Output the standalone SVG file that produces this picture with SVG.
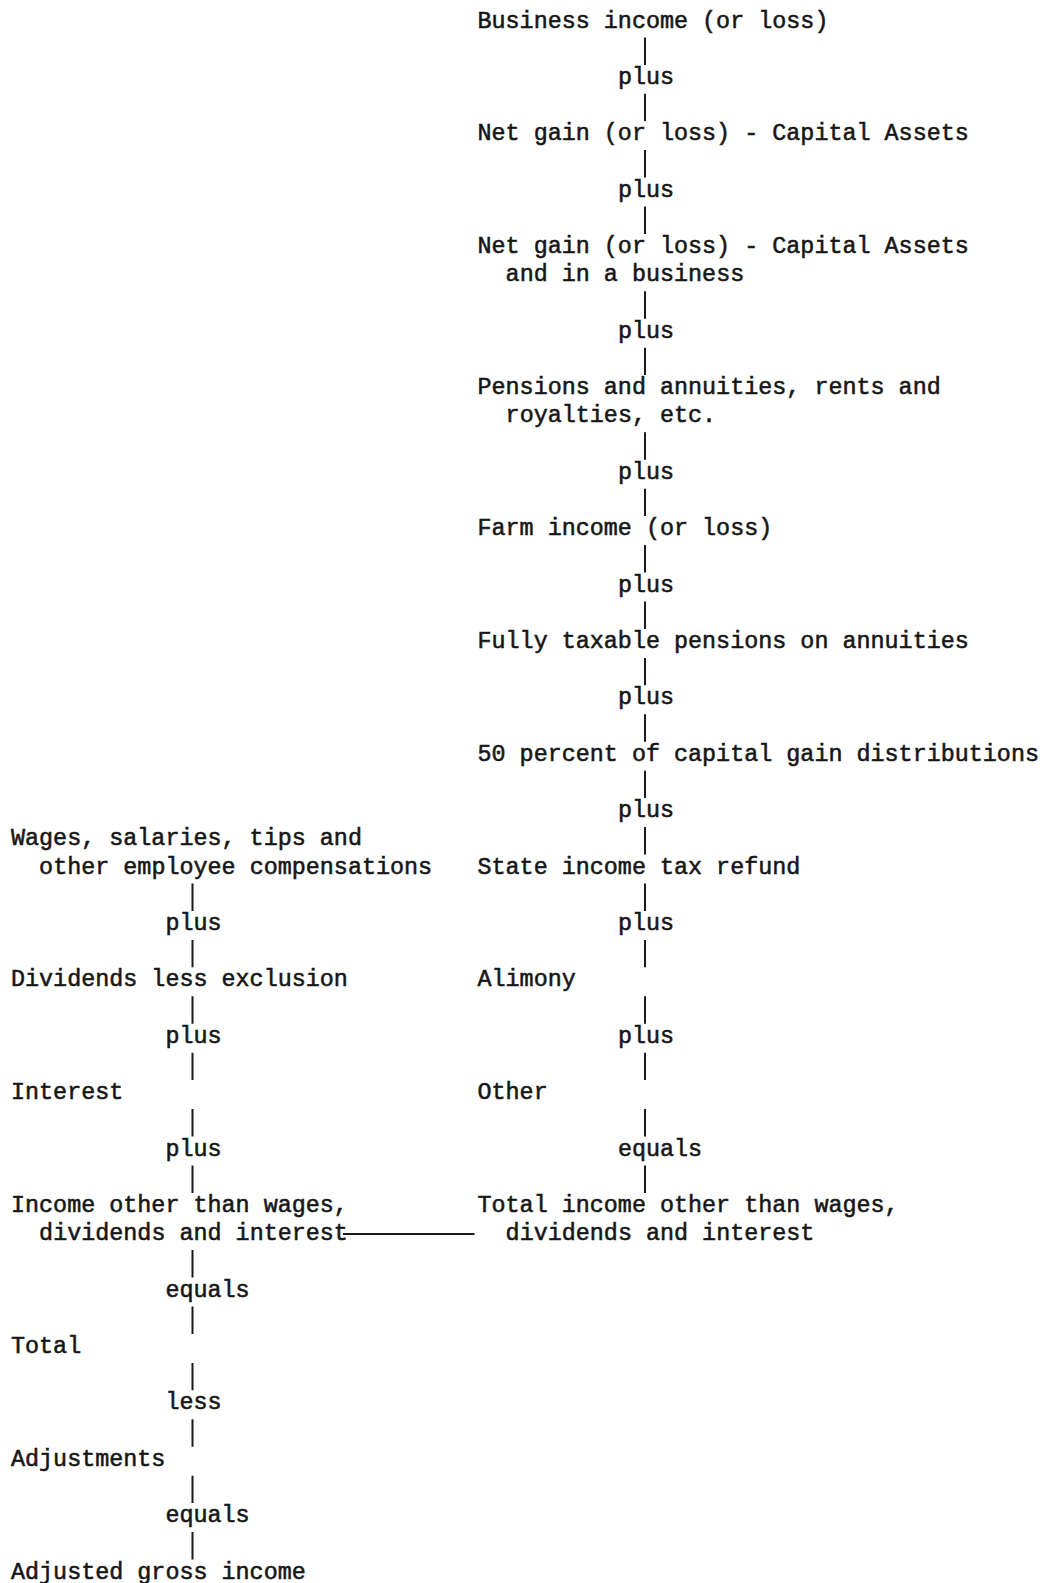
<svg xmlns="http://www.w3.org/2000/svg" width="1040" height="1583" viewBox="0 0 1040 1583">
<style>
text{font-family:"Liberation Mono","DejaVu Sans Mono",monospace;font-size:23.4px;fill:#161616;stroke:#161616;stroke-width:0.55;white-space:pre}
.c{stroke:#1a1a1a;stroke-width:2;fill:none}
</style>
<rect width="1040" height="1583" fill="#fff"/>
<g id="connectors" class="c">
<path d="M645 37.5V64.9 M645 93.7V121.1 M645 150.1V177.5 M645 206.5V233.9 M645 291.3V318.7 M645 347.7V375.1 M645 432.3V459.7 M645 488.7V516.1 M645 545.1V572.5 M645 601.5V628.9 M645 657.9V685.3 M645 714.3V741.7 M645 770.7V798.1 M645 827.1V854.5 M645 883.5V910.9 M645 939.9V967.3 M645 996.3V1023.7 M645 1052.7V1080.1 M645 1109.1V1136.5 M645 1165.5V1192.9"/>
<path d="M192.5 883.5V910.9 M192.5 939.9V967.3 M192.5 996.3V1023.7 M192.5 1052.7V1080.1 M192.5 1109.1V1136.5 M192.5 1165.5V1192.9 M192.5 1250.1V1277.5 M192.5 1306.5V1333.9 M192.5 1362.9V1390.3 M192.5 1419.3V1446.7 M192.5 1475.7V1503.1 M192.5 1532.1V1559.5"/>
<path d="M343 1234H474.5"/>
</g>
<g id="n-business"><text x="477.5" y="27.5">Business income (or loss)</text></g>
<g id="op-r1"><text x="617.9" y="83.9">plus</text></g>
<g id="n-netgain"><text x="477.5" y="140.3">Net gain (or loss) - Capital Assets</text></g>
<g id="op-r2"><text x="617.9" y="196.7">plus</text></g>
<g id="n-netgain-business"><text x="477.5" y="253.1">Net gain (or loss) - Capital Assets</text><text x="505.6" y="281.3">and in a business</text></g>
<g id="op-r3"><text x="617.9" y="337.7">plus</text></g>
<g id="n-pensions"><text x="477.5" y="394.1">Pensions and annuities, rents and</text><text x="505.6" y="422.3">royalties, etc.</text></g>
<g id="op-r4"><text x="617.9" y="478.7">plus</text></g>
<g id="n-farm"><text x="477.5" y="535.1">Farm income (or loss)</text></g>
<g id="op-r5"><text x="617.9" y="591.5">plus</text></g>
<g id="n-fully"><text x="477.5" y="647.9">Fully taxable pensions on annuities</text></g>
<g id="op-r6"><text x="617.9" y="704.3">plus</text></g>
<g id="n-50pct"><text x="477.5" y="760.7">50 percent of capital gain distributions</text></g>
<g id="op-r7"><text x="617.9" y="817.1">plus</text></g>
<g id="n-state"><text x="477.5" y="873.5">State income tax refund</text></g>
<g id="op-r8"><text x="617.9" y="929.9">plus</text></g>
<g id="n-alimony"><text x="477.5" y="986.3">Alimony</text></g>
<g id="op-r9"><text x="617.9" y="1042.7">plus</text></g>
<g id="n-other"><text x="477.5" y="1099.1">Other</text></g>
<g id="op-r10"><text x="617.9" y="1155.5">equals</text></g>
<g id="n-total-other"><text x="477.5" y="1211.9">Total income other than wages,</text><text x="505.6" y="1240.1">dividends and interest</text></g>
<g id="n-wages"><text x="11" y="845.3">Wages, salaries, tips and</text><text x="39.1" y="873.5">other employee compensations</text></g>
<g id="op-l1"><text x="165.4" y="929.9">plus</text></g>
<g id="n-dividends"><text x="11" y="986.3">Dividends less exclusion</text></g>
<g id="op-l2"><text x="165.4" y="1042.7">plus</text></g>
<g id="n-interest"><text x="11" y="1099.1">Interest</text></g>
<g id="op-l3"><text x="165.4" y="1155.5">plus</text></g>
<g id="n-income-other"><text x="11" y="1211.9">Income other than wages,</text><text x="39.1" y="1240.1">dividends and interest</text></g>
<g id="op-l4"><text x="165.4" y="1296.5">equals</text></g>
<g id="n-total"><text x="11" y="1352.9">Total</text></g>
<g id="op-l5"><text x="165.4" y="1409.3">less</text></g>
<g id="n-adjustments"><text x="11" y="1465.7">Adjustments</text></g>
<g id="op-l6"><text x="165.4" y="1522.1">equals</text></g>
<g id="n-agi"><text x="11" y="1578.5">Adjusted gross income</text></g>
</svg>
